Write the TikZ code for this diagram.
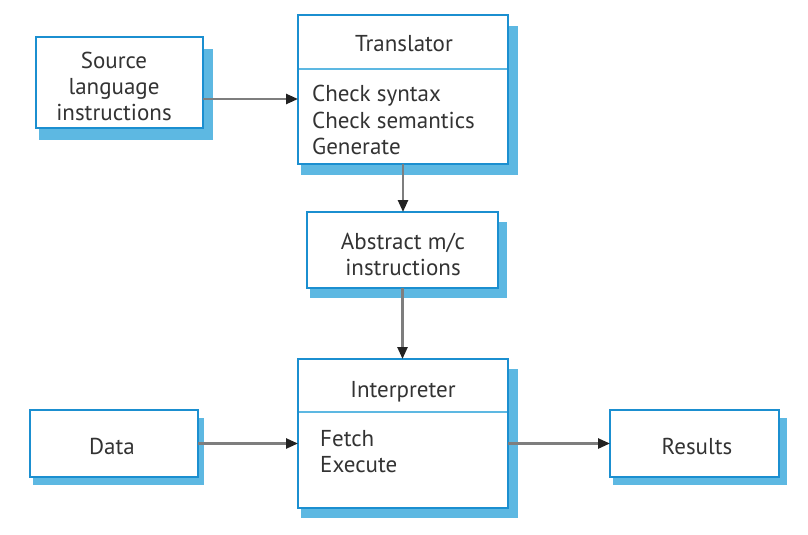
\documentclass[tikz,border=0pt]{standalone}
\usepackage{fontspec}
\setmainfont{PT Sans}
\usetikzlibrary{arrows.meta,backgrounds}
\definecolor{bord}{HTML}{1B8FD0}
\definecolor{shad}{HTML}{5DB8E2}
\definecolor{txt}{HTML}{333333}
\definecolor{conncol}{HTML}{7E7E7E}
\definecolor{tipcol}{HTML}{222222}
\tikzset{
  box/.style={draw=bord, line width=2.6pt, fill=white, rectangle, outer sep=0pt, inner sep=0pt},
  lbl/.style={text=txt, font=\fontsize{23}{26}\selectfont, inner sep=0pt},
  cline/.style={lbl, anchor=base},
  lline/.style={lbl, anchor=base west},
  conn/.style={draw=conncol, line width=2.5pt, -{Triangle[length=12pt,width=10pt,fill=tipcol,color=tipcol]}},
  divider/.style={draw=shad, line width=2.5pt},
  shadowfill/.style={fill=shad}
}
\newcommand{\boxshadow}[3]{%
  \fill[shadowfill] ([shift={(3pt,-#3)}]#1.north west) rectangle ([shift={(#2,-#3)}]#1.south east);}
\begin{document}
\begin{tikzpicture}[x=1pt,y=-1pt]
\useasboundingbox (0,0) rectangle (808,535);
% boxes
\node[box, minimum width=167pt, minimum height=91pt]  (src)    at (119.5,82.5) {};
\node[box, minimum width=210pt, minimum height=149pt] (trans)  at (403,89.5) {};
\node[box, minimum width=191pt, minimum height=76pt]  (abs)    at (402.5,250) {};
\node[box, minimum width=210pt, minimum height=149pt] (interp) at (403,433.5) {};
\node[box, minimum width=168pt, minimum height=67pt]  (data)   at (114,443.5) {};
\node[box, minimum width=169pt, minimum height=67pt]  (res)    at (694.5,443.5) {};
\begin{pgfonlayer}{background}
  \boxshadow{src}{10pt}{12pt}
  \boxshadow{trans}{10pt}{11pt}
  \boxshadow{abs}{9pt}{10pt}
  \boxshadow{interp}{10pt}{10pt}
  \boxshadow{data}{6pt}{8pt}
  \boxshadow{res}{8pt}{8pt}
\end{pgfonlayer}
% dividers
\coordinate (tdl) at ([yshift=-54pt]trans.north west);
\coordinate (tdr) at ([yshift=-54pt]trans.north east);
\draw[divider] ([xshift=1.3pt]tdl) -- ([xshift=-1.3pt]tdr);
\coordinate (idl) at ([yshift=-53pt]interp.north west);
\coordinate (idr) at ([yshift=-53pt]interp.north east);
\draw[divider] ([xshift=1.3pt]idl) -- ([xshift=-1.3pt]idr);
% texts
\node[cline] (s1) at (114,68) {Source};
\node[cline] (s2) at (114,94) {language};
\node[cline] (s3) at (114,120) {instructions};
\node[cline] (tt) at (404,52) {Translator};
\node[lline] (t1) at (312,101) {Check syntax};
\node[lline] (t2) at (312,128) {Check semantics};
\node[lline] (t3) at (312,154) {Generate};
\node[cline] (a1) at (403,249) {Abstract m/c};
\node[cline] (a2) at (403,275) {instructions};
\node[cline] (it) at (403,397) {Interpreter};
\node[lline] (i1) at (320,446) {Fetch};
\node[lline] (i2) at (320,472) {Execute};
\node[cline] (dt) at (112,454) {Data};
\node[cline] (rt) at (697,454) {Results};
% connectors
\draw[conn] ([yshift=-16.5pt]src.east) -- ([yshift=-16.5pt]src.east -| trans.west);
\draw[conn] (trans.south) -- (trans.south |- abs.north);
\draw[conn] (abs.south) -- (abs.south |- interp.north);
\draw[conn] (data.east) -- (data.east -| interp.west);
\draw[conn] (res.west -| interp.east) -- (res.west);
\end{tikzpicture}
\end{document}
